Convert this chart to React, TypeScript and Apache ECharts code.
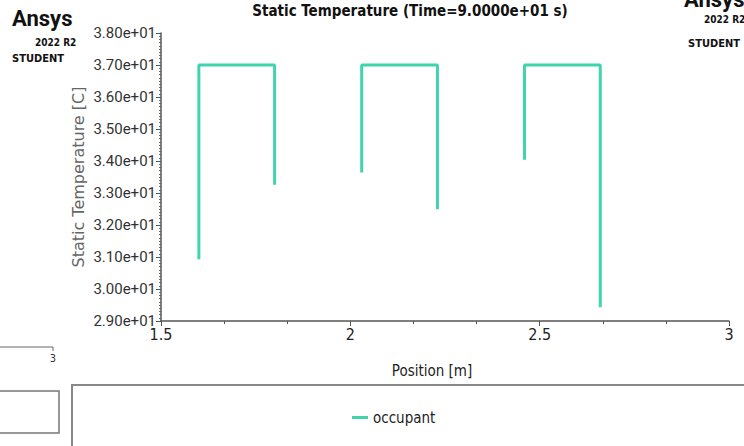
import React, { useEffect, useRef } from "react";
import * as echarts from "echarts";

const seriesName = "occupant";
const leftX = [1.6, 2.03, 2.46];
const rightX = [1.8, 2.23, 2.66];
const topTemp = [37.0, 37.0, 37.0];
const leftBottom = [30.93, 33.64, 34.04];
const rightBottom = [33.26, 32.49, 29.43];
const xTicks = [1.5, 2, 2.5, 3];
const yMin = 29;
const yMax = 38;

const TEAL = "#3fd3ae";
const NARROW = "'Liberation Sans Narrow', 'DejaVu Sans Condensed', Roboto, sans-serif";

function fmtExp(v: number): string {
  if (v === 0) return "0.00e+00";
  const e = Math.floor(Math.log10(Math.abs(v)) + 1e-9);
  const m = v / Math.pow(10, e);
  const sign = e < 0 ? "-" : "+";
  const ea = Math.abs(e);
  return m.toFixed(2) + "e" + sign + (ea < 10 ? "0" + ea : String(ea));
}

export default function App() {
  const ref = useRef<HTMLDivElement>(null);
  useEffect(() => {
    document.body.style.margin = "0";
    if (!ref.current) return;
    const chart = echarts.init(ref.current, undefined, { renderer: "svg" });
    const series = leftX.map((lx, i) => ({
      name: seriesName,
      type: "line",
      showSymbol: false,
      symbol: "none",
      color: TEAL,
      lineStyle: { color: TEAL, width: 3 },
      data: [
        [lx, leftBottom[i]],
        [lx, topTemp[i]],
        [rightX[i], topTemp[i]],
        [rightX[i], rightBottom[i]],
      ],
    }));
    chart.setOption({
      animation: false,
      backgroundColor: "#ffffff",
      title: {
        text: "Static Temperature (Time=9.0000e+01 s)",
        left: 405,
        top: -2,
        textAlign: "center",
        textStyle: { fontSize: 15, fontWeight: "bold", color: "#111", fontFamily: NARROW },
      },
      grid: { left: 161, right: 15, top: 33, bottom: 125, containLabel: false },
      legend: {
        data: [seriesName],
        left: 347,
        top: 405,
        icon: "rect",
        itemWidth: 16,
        itemHeight: 3,
        itemGap: 5,
        textStyle: { fontSize: 15, color: "#222", fontFamily: NARROW },
      },
      xAxis: {
        type: "value",
        min: xTicks[0],
        max: xTicks[xTicks.length - 1],
        interval: 0.5,
        name: "Position [m]",
        nameLocation: "middle",
        nameGap: 42,
        nameMoveOverlap: false,
        nameTextStyle: { fontSize: 15, color: "#222", fontFamily: NARROW, padding: [0, 26, 0, 0] },
        axisLine: { show: true, lineStyle: { color: "#555", width: 1.5 } },
        axisTick: { show: true, length: 5, lineStyle: { color: "#555" } },
        minorTick: { show: true, splitNumber: 3, length: 3, lineStyle: { color: "#555" } },
        splitLine: { show: false },
        axisLabel: { fontSize: 16, color: "#222", fontFamily: NARROW, margin: 5 },
      },
      yAxis: {
        type: "value",
        min: yMin,
        max: yMax,
        interval: 1,
        name: "Static Temperature [C]",
        nameLocation: "middle",
        nameGap: 75,
        nameMoveOverlap: false,
        nameRotate: 90,
        nameTextStyle: { fontSize: 16, color: "#666", fontFamily: "'DejaVu Sans', Roboto, sans-serif" },
        axisLine: { show: true, lineStyle: { color: "#555", width: 1.5 } },
        axisTick: { show: true, length: 5, lineStyle: { color: "#555" } },
        minorTick: { show: true, splitNumber: 10, length: 2, lineStyle: { color: "#666" } },
        splitLine: { show: false },
        axisLabel: {
          fontSize: 15,
          color: "#333",
          fontFamily: "Roboto, sans-serif",
          margin: 5,
          formatter: (v: number) => fmtExp(v),
        },
      },
      series,
      graphic: [
        { type: "text", left: 12, top: 7, style: { text: "Ansys", fontSize: 22, fontWeight: "bold", fill: "#111", fontFamily: "Roboto, sans-serif" } },
        { type: "text", left: 35, top: 37, style: { text: "2022 R2", fontSize: 10, fontWeight: "bold", fill: "#111", fontFamily: NARROW } },
        { type: "text", left: 12, top: 53, style: { text: "STUDENT", fontSize: 11, fontWeight: "bold", fill: "#111", fontFamily: NARROW } },
        { type: "text", left: 684, top: -12, style: { text: "Ansys", fontSize: 22, fontWeight: "bold", fill: "#111", fontFamily: "Roboto, sans-serif" } },
        { type: "text", left: 704, top: 14, style: { text: "2022 R2", fontSize: 10, fontWeight: "bold", fill: "#111", fontFamily: NARROW } },
        { type: "text", left: 688, top: 38, style: { text: "STUDENT", fontSize: 11, fontWeight: "bold", fill: "#111", fontFamily: NARROW } },
        { type: "line", shape: { x1: 0, y1: 347, x2: 53, y2: 347 }, style: { stroke: "#666", lineWidth: 1 } },
        { type: "line", shape: { x1: 53, y1: 347, x2: 53, y2: 351 }, style: { stroke: "#666", lineWidth: 1 } },
        { type: "text", x: 53, y: 353, style: { text: "3", fontSize: 11, fill: "#333", textAlign: "center", fontFamily: NARROW } },
        { type: "rect", shape: { x: -2, y: 391, width: 61, height: 42 }, style: { fill: "none", stroke: "#777", lineWidth: 1.5 } },
        { type: "rect", shape: { x: 72, y: 385, width: 690, height: 80 }, style: { fill: "none", stroke: "#888", lineWidth: 2 } },
      ],
    });
    return () => chart.dispose();
  }, []);
  return <div ref={ref} style={{ position: "fixed", left: 0, top: 0, width: 744, height: 446 }} />;
}
